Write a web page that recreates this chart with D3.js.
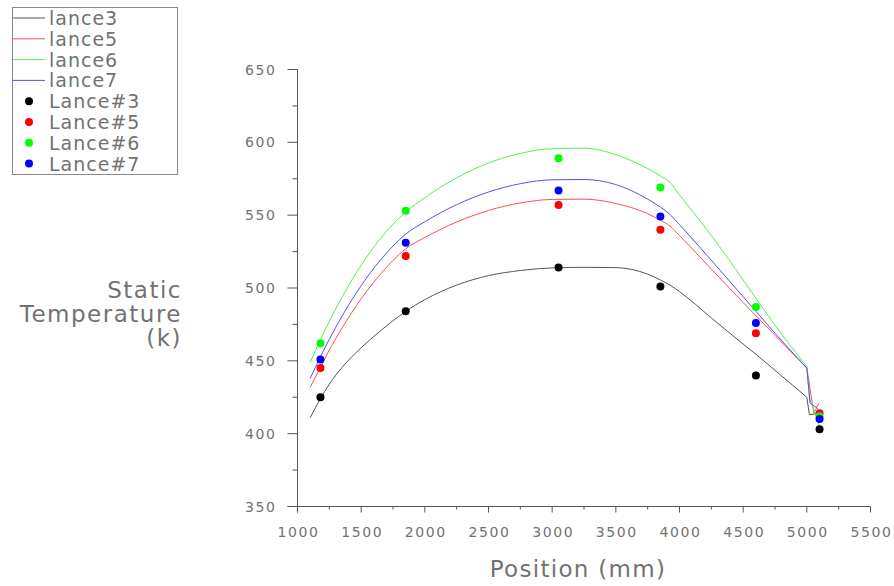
<!DOCTYPE html>
<html>
<head>
<meta charset="utf-8">
<script src="https://cdn.jsdelivr.net/npm/d3@7"></script>
<style>
  html, body { margin: 0; padding: 0; background: #fff; }
  svg { display: block; }
  text { font-family: "DejaVu Sans", "Liberation Sans", sans-serif; fill: #727272; }
</style>
</head>
<body>
<svg id="chart" width="894" height="586"></svg>
<script>
// ---------------- data ----------------
const xTickValues = [1000, 1500, 2000, 2500, 3000, 3500, 4000, 4500, 5000, 5500];
const yTickValues = [350, 400, 450, 500, 550, 600, 650];

// simulated profiles (lines)
const curvePos = [1100, 1180, 1250, 1350, 1500, 1650, 1750, 1850, 2000, 2250, 2500, 2750, 3000, 3250, 3500, 3750, 3850, 3925, 4000, 4250, 4500, 4600, 4750, 5000];
const lance3 = [411, 424, 434, 445.5, 459, 470.5, 477.5, 484, 492, 502, 508.5, 512, 513.8, 514.2, 514, 509.5, 505.5, 502, 497.5, 479.5, 461.5, 454.5, 443.5, 425];
const lance5 = [432, 445.5, 457.4, 472.5, 492.6, 509.4, 518.9, 526.9, 534.7, 545.3, 553.2, 558.4, 560.8, 561, 558, 551, 546.5, 542.5, 536, 513, 490, 481, 467.5, 445];
const lance6 = [449, 464.5, 477.1, 493.8, 515.7, 533.8, 543.8, 552.1, 562, 575.6, 585.8, 592.4, 595.6, 596, 591.5, 582, 577, 572.5, 564, 536, 505.5, 493, 474.5, 446];
const lance7 = [438, 452.7, 464.8, 480.7, 501.6, 519.1, 528.8, 537, 545.5, 557.2, 565.9, 571.6, 574.3, 574.5, 571, 561, 555.5, 550.5, 543.5, 519, 494, 484, 469, 445];

// outlet end of each profile (continues from the 5000 mm point)
const tail3Pos = [5020, 5090];
const tail3 = [413, 414];
const tail5Pos = [5055, 5095];
const tail5 = [414, 421];
const tail6Pos = [5020, 5100];
const tail6 = [425, 405];
const tail7Pos = [5025, 5090];
const tail7 = [421, 417];

// measurements (dots)
const measPos = [1180, 1850, 3050, 3850, 4600, 5100];
const meas3 = [425, 484, 514, 501, 440, 403];
const meas5 = [445, 522, 557, 540, 469, 414];
const meas6 = [462, 553, 589, 569, 487, 412];
const meas7 = [451, 531, 567, 549, 476, 410];

const lineNames = ["lance3", "lance5", "lance6", "lance7"];
const dotNames = ["Lance#3", "Lance#5", "Lance#6", "Lance#7"];
const lineColors = ["#555555", "#ff5050", "#50f050", "#5050ff"];
const dotColors = ["#000000", "#ff0000", "#00ff00", "#0000ff"];

// ---------------- chart ----------------
const svg = d3.select("#chart");
const x = d3.scaleLinear().domain([1000, 5500]).range([297.5, 870.5]);
const y = d3.scaleLinear().domain([350, 650]).range([506.5, 69.5]);

const axisColor = "#555";

// Y axis
const gy = svg.append("g");
gy.append("line").attr("x1", x(1000)).attr("x2", x(1000))
  .attr("y1", y(650)).attr("y2", y(350) + 6).attr("stroke", axisColor);
const yMinor = d3.range(375, 650, 50);
gy.selectAll("line.maj").data(yTickValues).join("line")
  .attr("x1", x(1000) - 10).attr("x2", x(1000))
  .attr("y1", d => y(d)).attr("y2", d => y(d)).attr("stroke", axisColor);
gy.selectAll("line.min").data(yMinor).join("line")
  .attr("x1", x(1000) - 5).attr("x2", x(1000))
  .attr("y1", d => y(d)).attr("y2", d => y(d)).attr("stroke", axisColor);
gy.selectAll("text").data(yTickValues).join("text")
  .attr("x", x(1000) - 21).attr("y", d => y(d) + 5)
  .attr("text-anchor", "end").attr("font-size", 14).attr("letter-spacing", 1.6)
  .text(d => d);

// X axis
const gx = svg.append("g");
gx.append("line").attr("x1", x(1000) - 10).attr("x2", x(5500))
  .attr("y1", y(350)).attr("y2", y(350)).attr("stroke", axisColor);
const xMinor = d3.range(1250, 5500, 500);
gx.selectAll("line.maj").data(xTickValues).join("line")
  .attr("x1", d => x(d)).attr("x2", d => x(d))
  .attr("y1", y(350)).attr("y2", y(350) + 6).attr("stroke", axisColor);
gx.selectAll("line.min").data(xMinor).join("line")
  .attr("x1", d => x(d)).attr("x2", d => x(d))
  .attr("y1", y(350)).attr("y2", y(350) + 3).attr("stroke", axisColor);
gx.selectAll("text").data(xTickValues).join("text")
  .attr("x", d => x(d) + 1).attr("y", y(350) + 30)
  .attr("text-anchor", "middle").attr("font-size", 14).attr("letter-spacing", 1.6)
  .text(d => d);

// axis titles
svg.append("text").attr("x", 578).attr("y", 577).attr("text-anchor", "middle")
  .attr("font-size", 23).attr("letter-spacing", 1.3).text("Position (mm)");
const yTitle = ["Static", "Temperature", "(k)"];
svg.selectAll("text.yt").data(yTitle).join("text")
  .attr("x", 182).attr("y", (d, i) => 298 + i * 24)
  .attr("text-anchor", "end").attr("font-size", 23).attr("letter-spacing", 1.5)
  .text(d => d);

// lines: smooth body up to 5000 mm, straight segments for the outlet end
const smoothGen = d3.line().x(d => x(d[0])).y(d => y(d[1])).curve(d3.curveMonotoneX);
const straightGen = d3.line().x(d => x(d[0])).y(d => y(d[1]));
const bodies = [lance3, lance5, lance6, lance7];
const tailsPos = [tail3Pos, tail5Pos, tail6Pos, tail7Pos];
const tailsVal = [tail3, tail5, tail6, tail7];
const lg0 = svg.append("g");
bodies.forEach((vals, i) => {
  const body = curvePos.map((p, k) => [p, vals[k]]);
  const last = body[body.length - 1];
  const tail = [last].concat(tailsPos[i].map((p, k) => [p, tailsVal[i][k]]));
  lg0.append("path").attr("fill", "none").attr("stroke", lineColors[i]).attr("stroke-width", 1)
    .attr("stroke-linejoin", "miter")
    .attr("d", smoothGen(body) + straightGen(tail).replace(/^M[^L]*/, ""));
});

// dots
const dotSeries = [meas3, meas5, meas6, meas7];
dotSeries.forEach((vals, i) => {
  svg.append("g").selectAll("circle").data(measPos.map((p, k) => [p, vals[k]])).join("circle")
    .attr("cx", d => x(d[0])).attr("cy", d => y(d[1])).attr("r", 4)
    .attr("fill", dotColors[i]);
});

// legend
const lg = svg.append("g");
lg.append("rect").attr("x", 12.5).attr("y", 7.5).attr("width", 165).attr("height", 167)
  .attr("fill", "#fff").attr("stroke", "#888");
const rowY = i => 18 + i * 20.8;
lineNames.forEach((n, i) => {
  lg.append("line").attr("x1", 13).attr("x2", 45).attr("y1", rowY(i)).attr("y2", rowY(i))
    .attr("stroke", lineColors[i]).attr("stroke-width", 1);
  lg.append("text").attr("x", 49).attr("y", rowY(i) + 7).attr("font-size", 19)
    .attr("letter-spacing", 1).text(n);
});
dotNames.forEach((n, i) => {
  const r = rowY(i + 4);
  lg.append("circle").attr("cx", 29).attr("cy", r).attr("r", 4).attr("fill", dotColors[i]);
  lg.append("text").attr("x", 49).attr("y", r + 7).attr("font-size", 19)
    .attr("letter-spacing", 1).text(n);
});
</script>
</body>
</html>
